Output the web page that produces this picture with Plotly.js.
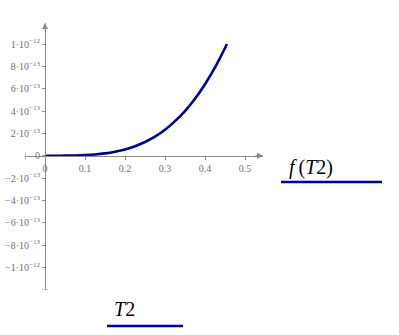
<!DOCTYPE html>
<html>
<head>
<meta charset="utf-8">
<script src="https://cdn.plot.ly/plotly-3.0.1.min.js"></script>
<style>html,body{margin:0;padding:0;background:#fff;}#chart{width:399px;height:335px;}</style>
</head>
<body>
<div id="chart"></div>
<script>
var T2 = [0, 0.025, 0.05, 0.075, 0.1, 0.125, 0.15, 0.175, 0.2, 0.225, 0.25, 0.275, 0.3, 0.325, 0.35, 0.375, 0.4, 0.425, 0.455];
var fT2 = [0, 4e-17, 4e-16, 1.5e-15, 5e-15, 1.1e-14, 2.1e-14, 3.6e-14, 5.6e-14, 8.5e-14, 1.23e-13, 1.7e-13, 2.32e-13, 3.1e-13, 4.0e-13, 5.1e-13, 6.4e-13, 7.9e-13, 1.0e-12];
var xTickVals = [0, 0.1, 0.2, 0.3, 0.4, 0.5];
var xTickText = ["0", "0.1", "0.2", "0.3", "0.4", "0.5"];
var yTickVals = [-1e-12, -8e-13, -6e-13, -4e-13, -2e-13, 0, 2e-13, 4e-13, 6e-13, 8e-13, 1e-12];
var yTickText = ["\u22121\u00b710<sup>\u221212</sup>", "\u22128\u00b710<sup>\u221213</sup>", "\u22126\u00b710<sup>\u221213</sup>", "\u22124\u00b710<sup>\u221213</sup>", "\u22122\u00b710<sup>\u221213</sup>", "0", "2\u00b710<sup>\u221213</sup>", "4\u00b710<sup>\u221213</sup>", "6\u00b710<sup>\u221213</sup>", "8\u00b710<sup>\u221213</sup>", "1\u00b710<sup>\u221212</sup>"];

var xMin = -0.05, xMax = 0.545;
var yMin = -1.202e-12, yMax = 1.188e-12;
var axisColor = "#8a8a8a";
var tickColor = "#6e6e6e";
var lineColor = "#00008f";
var serif = "Liberation Serif, DejaVu Serif, serif";

var trace = {
  x: T2, y: fT2, type: "scatter", mode: "lines",
  line: {color: lineColor, width: 2.6, shape: "spline"},
  hoverinfo: "none"
};

var layout = {
  width: 399, height: 335,
  margin: {l: 25, r: 136, t: 23, b: 45, pad: 0},
  paper_bgcolor: "#fff", plot_bgcolor: "#fff",
  showlegend: false,
  xaxis: {
    range: [xMin, xMax], anchor: "free",
    position: (0 - yMin) / (yMax - yMin),
    showgrid: false, zeroline: false, showline: true, linecolor: axisColor, linewidth: 1,
    ticks: "outside", ticklen: 3, tickcolor: axisColor,
    tickvals: xTickVals, ticktext: xTickText,
    tickfont: {family: serif, size: 10, color: tickColor},
    automargin: false, fixedrange: true
  },
  yaxis: {
    range: [yMin, yMax], anchor: "free",
    position: (0 - xMin) / (xMax - xMin),
    showgrid: false, zeroline: false, showline: true, linecolor: axisColor, linewidth: 1,
    ticks: "outside", ticklen: 3, tickcolor: axisColor,
    tickvals: yTickVals, ticktext: yTickText,
    tickfont: {family: serif, size: 10, color: tickColor},
    automargin: false, fixedrange: true
  },
  annotations: [
    {x: 0, y: yMax, xref: "x", yref: "y", ax: 0, ay: 9, text: "", showarrow: true,
     arrowhead: 2, arrowsize: 1.2, arrowwidth: 1, arrowcolor: axisColor},
    {x: xMax, y: 0, xref: "x", yref: "y", ax: -9, ay: 0, text: "", showarrow: true,
     arrowhead: 2, arrowsize: 1.2, arrowwidth: 1, arrowcolor: axisColor},
    {x: 1.101, y: 0.457, xref: "paper", yref: "paper", xanchor: "left", showarrow: false,
     text: "<i>f</i>\u2009(<i>T</i>2)", font: {family: serif, size: 20, color: "#000"}},
    {x: 0.366, y: -0.118, xref: "paper", yref: "paper", xanchor: "left", showarrow: false,
     text: "<i>T</i>2", font: {family: serif, size: 20, color: "#000"}}
  ],
  shapes: [
    {type: "line", xref: "paper", yref: "paper", x0: 1.0756, x1: 1.5, y0: 0.4045, y1: 0.4045,
     line: {color: lineColor, width: 2.5}},
    {type: "line", xref: "paper", yref: "paper", x0: 0.3445, x1: 0.664, y0: -0.1348, y1: -0.1348,
     line: {color: lineColor, width: 2.5}},
    {type: "line", xref: "x", yref: "y", x0: xMin, x1: xMin, y0: -3e-14, y1: 3e-14,
     line: {color: axisColor, width: 1}},
    {type: "line", xref: "x", yref: "y", x0: -0.0075, x1: 0.0075, y0: yMin, y1: yMin,
     line: {color: axisColor, width: 1}}
  ]
};

Plotly.newPlot("chart", [trace], layout, {displayModeBar: false, staticPlot: true});
</script>
</body>
</html>
